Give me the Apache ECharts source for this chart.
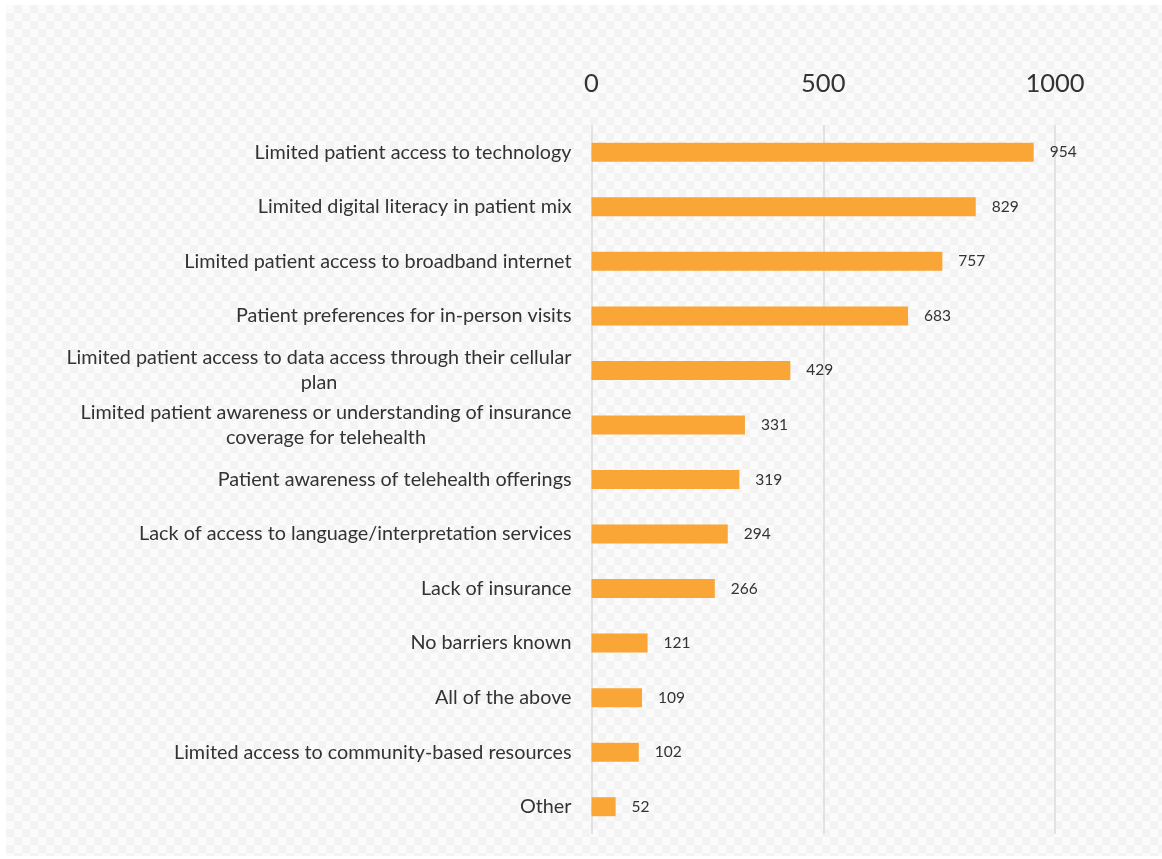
<!DOCTYPE html>
<html>
<head>
<meta charset="utf-8">
<title>Patient barriers to telehealth</title>
<script src="https://cdn.jsdelivr.net/npm/echarts@6/dist/echarts.min.js"></script>
<style>
  html, body { margin: 0; padding: 0; background: #ffffff; }
  #wrap { position: relative; width: 1162px; height: 859px; overflow: hidden; }
  /* light checkered backdrop behind the chart */
  #backdrop {
    position: absolute; left: 6px; top: 5px; width: 1156px; height: 851px;
    background-image: conic-gradient(#f3f3f3 25%, #fbfbfb 0 50%, #f3f3f3 0 75%, #fbfbfb 0);
    background-size: 16px 16px;
  }
  #chart { position: absolute; left: 0; top: 0; width: 1162px; height: 859px; }
</style>
</head>
<body>
<div id="wrap">
  <div id="backdrop"></div>
  <div id="chart"></div>
</div>
<script>
// Reported barriers, top to bottom
const categories = [
  'Limited patient access to technology',
  'Limited digital literacy in patient mix',
  'Limited patient access to broadband internet',
  'Patient preferences for in-person visits',
  'Limited patient access to data access through their cellular\nplan',
  'Limited patient awareness or understanding of insurance\ncoverage for telehealth',
  'Patient awareness of telehealth offerings',
  'Lack of access to language/interpretation services',
  'Lack of insurance',
  'No barriers known',
  'All of the above',
  'Limited access to community-based resources',
  'Other'
];

// Number of responses per barrier
const responses = [954, 829, 757, 683, 429, 331, 319, 294, 266, 121, 109, 102, 52];

// Value axis ticks
const axisMin = 0;
const axisMax = 1000;
const axisStep = 500;

const FONT = 'Lato, "Open Sans", sans-serif';

const chart = echarts.init(document.getElementById('chart'), null, { renderer: 'canvas' });

chart.setOption({
  backgroundColor: 'transparent',
  animation: false,
  grid: { left: 591.5, right: 107, top: 125, bottom: 25, containLabel: false },
  xAxis: {
    type: 'value',
    position: 'top',
    min: axisMin,
    max: axisMax,
    interval: axisStep,
    axisLine: { show: false },
    axisTick: { show: false },
    axisLabel: {
      color: '#333333', fontSize: 25.5, fontFamily: FONT, margin: 28,
      formatter: function (v) { return String(v); }
    },
    splitLine: { show: true, lineStyle: { color: '#e2e2e2', width: 2 } }
  },
  yAxis: {
    type: 'category',
    data: categories,
    inverse: true,
    axisLine: { show: false },
    axisTick: { show: false },
    axisLabel: {
      margin: 20,
      color: '#333333',
      fontSize: 19.8,
      fontFamily: FONT,
      lineHeight: 25,
      // each line centred within the label block, block right-aligned to the axis
      formatter: function (v) {
        return v.split('\n').map(function (s) { return '{c|' + s + '}'; }).join('\n');
      },
      rich: {
        c: { align: 'center', color: '#333333', fontSize: 19.8, fontFamily: FONT, lineHeight: 25 }
      }
    }
  },
  series: [{
    type: 'bar',
    data: responses,
    barWidth: 19,
    itemStyle: { color: '#F9A636' },
    label: {
      show: true,
      position: 'right',
      distance: 16,
      color: '#333333',
      fontSize: 15.5,
      fontFamily: FONT
    }
  }]
});
</script>
</body>
</html>
